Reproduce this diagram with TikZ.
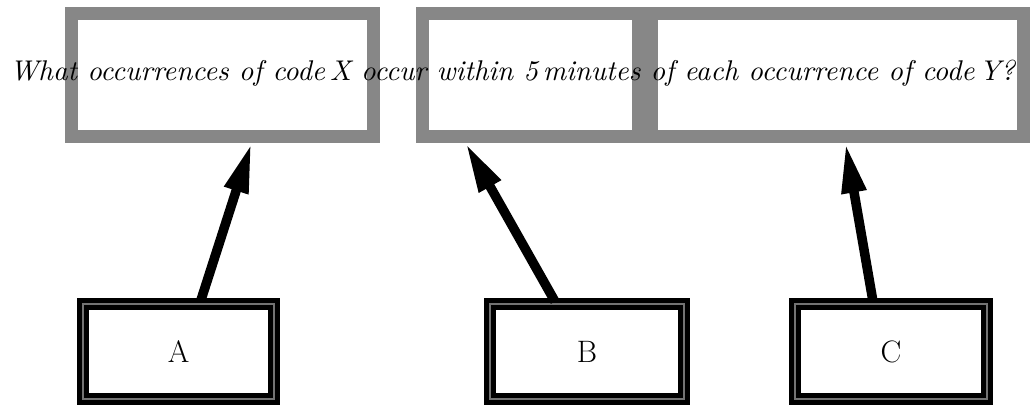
\documentclass[tikz,border=0pt]{standalone}
\usepackage{graphicx}
\usetikzlibrary{arrows.meta}
\begin{document}
\begin{tikzpicture}[x=1pt,y=-1pt,
  graybox/.style={draw=black!47,line width=13pt,fill=white,inner sep=0pt},
  blackbox/.style={draw=black,line width=5pt,double=black!55,double distance=2pt,fill=white,inner sep=0pt,font=\fontsize{31}{34}\selectfont},
  arr/.style={line width=9.5pt,-{Triangle[length=50pt,width=23pt]}}]
\useasboundingbox (0,0) rectangle (1034,407);
\node[graybox,minimum width=302pt,minimum height=123pt] (q1) at (222.5,75) {};
\node[graybox,minimum width=216pt,minimum height=123pt] (q2) at (530.5,75) {};
\node[graybox,minimum width=372pt,minimum height=123pt] (q3) at (837.5,75) {};
\node (txt) at (512.5,73) {\resizebox{1005pt}{!}{\itshape What occurrences of code\,X occur within 5\,minutes of each occurrence of code\,Y?}};
\node[blackbox,minimum width=191pt,minimum height=95pt] (A) at (178.5,351.5) {A};
\node[blackbox,minimum width=194pt,minimum height=95pt] (B) at (587,351.5) {B};
\node[blackbox,minimum width=192pt,minimum height=95pt] (C) at (891,351.5) {C};
\draw[arr] ([xshift=22pt]A.north) -- ([xshift=29pt]q1.south);
\draw[arr] ([xshift=-32pt]B.north) -- ([xshift=-65pt]q2.south);
\draw[arr] ([xshift=-18pt]C.north) -- ([xshift=8pt]q3.south);
\end{tikzpicture}
\end{document}
